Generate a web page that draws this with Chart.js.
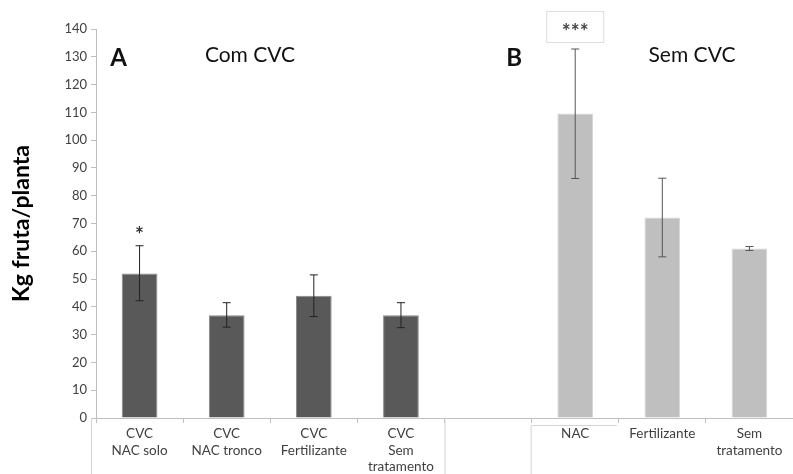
<!DOCTYPE html>
<html>
<head>
<meta charset="utf-8">
<script src="https://cdn.jsdelivr.net/npm/chart.js@4"></script>
<style>
  html, body { margin: 0; padding: 0; background: #fff; }
  #wrap { width: 793px; height: 474px; }
</style>
</head>
<body>
<div id="wrap"><canvas id="fruitChart"></canvas></div>
<script>
// categories (empty slot separates the two groups)
const categories = [
    ['CVC', 'NAC solo'],
    ['CVC', 'NAC tronco'],
    ['CVC', 'Fertilizante'],
    ['CVC', 'Sem', 'tratamento'],
    '',
    'NAC',
    'Fertilizante',
    ['Sem', 'tratamento']
];
const values   = [52, 37, 44, 37, null, 109.6, 72.2, 61];
const errHigh  = [62, 41.5, 51.5, 41.5, null, 132.8, 86.3, 61.7];
const errLow   = [42.2, 32.7, 36.5, 32.5, null, 86.2, 58, 60.3];
const marks    = ['*', '', '', '', '', '***', '', ''];
const yTicks   = [0, 140, 10]; // min, max, step

const font = 'Lato, "Open Sans", sans-serif';

const errorBars = {
    id: 'errorBars',
    afterDatasetsDraw(chart) {
        const ctx = chart.ctx;
        const meta = chart.getDatasetMeta(0);
        const y = chart.scales.y;
        ctx.save();
        meta.data.forEach((bar, i) => {
            if (values[i] === null) return;
            const x = bar.x;
            const top = y.getPixelForValue(errHigh[i]);
            const bot = y.getPixelForValue(errLow[i]);
            ctx.strokeStyle = i < 4 ? '#222' : '#555';
            ctx.lineWidth = 1;
            ctx.beginPath();
            ctx.moveTo(x, top); ctx.lineTo(x, bot);
            ctx.moveTo(x - 4, top); ctx.lineTo(x + 4, top);
            ctx.moveTo(x - 4, bot); ctx.lineTo(x + 4, bot);
            ctx.stroke();
        });
        ctx.restore();
    }
};

const annotations = {
    id: 'annotations',
    afterDraw(chart) {
        const ctx = chart.ctx;
        const meta = chart.getDatasetMeta(0);
        const y = chart.scales.y;
        const area = chart.chartArea;
        ctx.save();
        ctx.textAlign = 'center';
        ctx.textBaseline = 'middle';
        ctx.fillStyle = '#333';
        // significance marks
        meta.data.forEach((bar, i) => {
            if (!marks[i]) return;
            if (marks[i] === '***') {
                const yy = area.top;
                ctx.fillStyle = '#fff';
                ctx.fillRect(bar.x - 28, yy - 17, 56, 31);
                ctx.strokeStyle = '#ddd';
                ctx.strokeRect(bar.x - 28.5, yy - 17.5, 57, 31);
                ctx.fillStyle = '#444';
                ctx.font = 'bold 21px ' + font;
                ctx.fillText(marks[i], bar.x, yy + 3);
            } else {
                ctx.font = 'bold 21px ' + font;
                ctx.fillText(marks[i], bar.x, y.getPixelForValue(errHigh[i]) - 10);
            }
        });
        // panel letters and titles
        ctx.fillStyle = '#111';
        ctx.font = 'bold 24px ' + font;
        ctx.fillText('A', meta.data[0].x - 21, 58);
        ctx.fillText('B', meta.data[5].x - 61, 58);
        ctx.font = '21px ' + font;
        ctx.fillText('Com CVC', 250, 55);
        ctx.fillText('Sem CVC', 692, 55);
        // table-like separators below the axis
        const bottom = chart.height;
        const b0 = area.left - 5;
        const b4 = (meta.data[3].x + meta.data[4].x) / 2;
        const b5 = (meta.data[4].x + meta.data[5].x) / 2;
        const b6 = (meta.data[5].x + meta.data[6].x) / 2;
        ctx.strokeStyle = '#d4d4d4';
        ctx.lineWidth = 1;
        ctx.beginPath();
        ctx.moveTo(b0 + 0.5, area.bottom); ctx.lineTo(b0 + 0.5, bottom);
        ctx.moveTo(b4 + 0.5, area.bottom); ctx.lineTo(b4 + 0.5, bottom);
        ctx.moveTo(b5 - 0.5, area.bottom + 7); ctx.lineTo(b5 - 0.5, bottom);
        ctx.moveTo(b5, area.bottom + 7.5); ctx.lineTo(b6 - 2, area.bottom + 7.5);
        ctx.stroke();
        ctx.restore();
    }
};

new Chart(document.getElementById('fruitChart'), {
    type: 'bar',
    data: {
        labels: categories,
        datasets: [{
            label: 'Kg fruta/planta',
            data: values,
            backgroundColor: values.map((v, i) => i < 4 ? '#595959' : '#bfbfbf'),
            borderColor: values.map((v, i) => i < 4 ? '#8a8a8a' : '#d6d6d6'),
            borderWidth: 1,
            categoryPercentage: 1,
            barPercentage: 0.41
        }]
    },
    options: {
        responsive: true,
        maintainAspectRatio: false,
        animation: false,
        layout: { padding: { top: 29, left: 0, right: 0, bottom: 0 } },
        plugins: {
            legend: { display: false },
            tooltip: { enabled: false }
        },
        scales: {
            x: {
                grid: {
                    drawOnChartArea: false,
                    offset: true,
                    tickLength: 5,
                    color: '#bfbfbf'
                },
                border: { color: '#bfbfbf' },
                ticks: {
                    maxRotation: 0,
                    autoSkip: false,
                    color: '#404040',
                    font: { family: font, size: 13.5, lineHeight: 1.2 },
                    padding: 3
                },
                afterFit(scale) { scale.height = 56; }
            },
            y: {
                min: yTicks[0],
                max: yTicks[1],
                ticks: {
                    stepSize: yTicks[2],
                    color: '#404040',
                    font: { family: font, size: 13 },
                    padding: 4
                },
                grid: {
                    drawOnChartArea: false,
                    tickLength: 5,
                    color: '#bfbfbf'
                },
                border: { color: '#bfbfbf' },
                title: {
                    display: true,
                    text: 'Kg fruta/planta',
                    color: '#000',
                    font: { family: font, size: 23, weight: 'bold' },
                    padding: { top: 8, bottom: 10 }
                },
                afterFit(scale) { scale.width = 96; }
            }
        }
    },
    plugins: [errorBars, annotations]
});
</script>
</body>
</html>
